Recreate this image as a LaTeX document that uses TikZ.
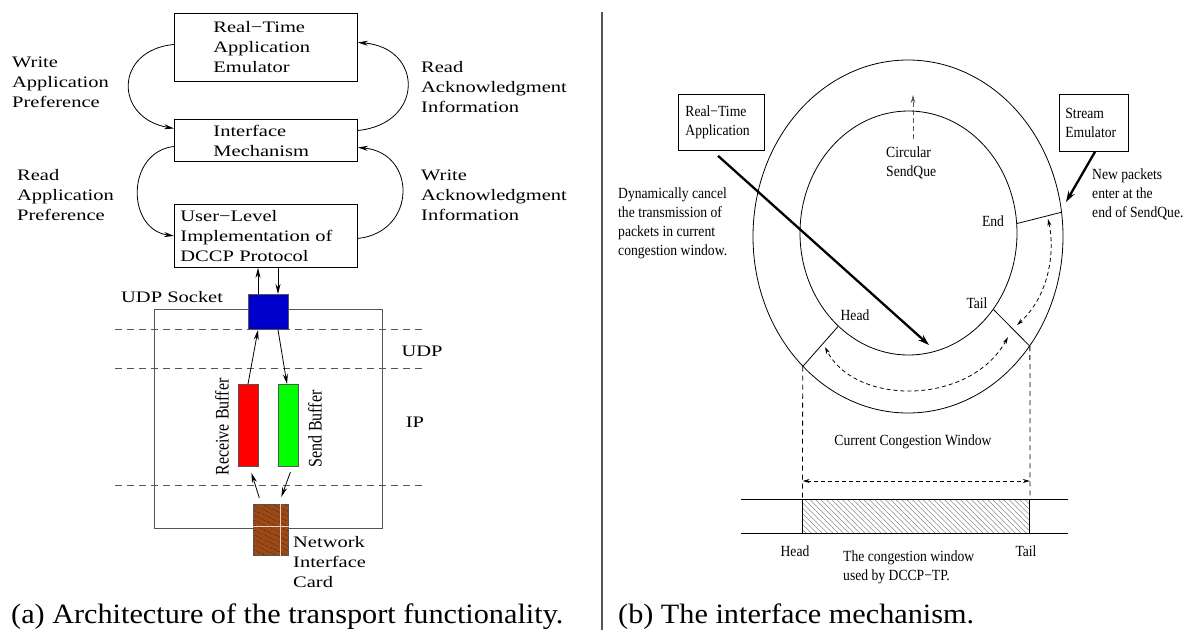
\documentclass[tikz,border=0pt]{standalone}
\usepackage{fontspec}
\setmainfont{Liberation Serif}
\newfontfamily\lfont[FakeStretch=1.28]{Liberation Serif}
\newfontfamily\rfont[FakeStretch=0.88]{Liberation Serif}
\newfontfamily\cfont[FakeStretch=1.08]{Liberation Serif}
\usetikzlibrary{shapes.geometric,arrows.meta,patterns.meta,fit,calc}
\definecolor{sockblue}{HTML}{0000CC}
\definecolor{nicbrown}{HTML}{A0460F}
\definecolor{linegray}{HTML}{555555}
\tikzset{
  lt/.style={font=\lfont\fontsize{16}{20}\selectfont, align=left, inner sep=0pt},
  rt/.style={font=\rfont\fontsize{15.5}{19}\selectfont, align=left, inner sep=0pt},
  capt/.style={font=\cfont\fontsize{28}{30}\selectfont, inner sep=0pt, anchor=base west},
  lbox/.style={draw, line width=0.9pt, rectangle, anchor=north west, inner ysep=0pt},
  arr/.style={-{Stealth[length=10pt,width=5pt]}, line width=0.8pt},
  layer/.style={draw=linegray, dash pattern=on 7pt off 5pt, line width=0.9pt},
  colbox/.style={draw=linegray, line width=0.9pt, anchor=north west, inner sep=0pt},
  thickarr/.style={line width=2.3pt, -{Stealth[length=11pt,width=7pt]}},
  ringarr/.style={dash pattern=on 4pt off 3pt, line width=0.8pt, {Stealth[length=7pt,width=4pt]}-{Stealth[length=7pt,width=4pt]}},
  vdash/.style={dash pattern=on 5pt off 4pt, line width=0.8pt},
}
\begin{document}
\begin{tikzpicture}[x=1pt,y=-1pt]
\useasboundingbox (0,0) rectangle (1184,630);

% ---------------- left panel ----------------
\node[lbox, lt, inner xsep=39pt, text width=105pt, minimum height=68pt] (rtae) at (174,13) {Real−Time\\Application\\Emulator};
\node[lbox, lt, inner xsep=39pt, text width=105pt, minimum height=42pt] (im) at (174,119) {Interface\\Mechanism};
\node[lbox, lt, inner xsep=6pt, text width=171pt, minimum height=63pt] (ul) at (174,204) {User−Level\\Implementation of\\DCCP Protocol};

\draw[arr] ($(rtae.west)+(0,-3)$) .. controls (114,50) and (114,118) .. ($(im.west)+(0,-12)$);
\draw[arr] ($(im.east)+(0,-10)$) .. controls (424,124) and (424,48) .. ($(rtae.east)+(0,-5)$);
\draw[arr] ($(im.west)+(0,6)$) .. controls (126,152) and (126,229) .. (ul.west);
\draw[arr] ($(ul.east)+(0,2.5)$) .. controls (417,232) and (417,153) .. ($(im.east)+(0,7)$);

\node[lt, anchor=west] (wap) at (12,82) {Write\\Application\\Preference};
\node[lt, anchor=west] (rap) at (17,195) {Read\\Application\\Preference};
\node[lt, anchor=west] (rai) at (421,87) {Read\\Acknowledgment\\Information};
\node[lt, anchor=west] (wai) at (421,195) {Write\\Acknowledgment\\Information};

% protocol stack
\node[draw=linegray, line width=0.9pt, anchor=north west, minimum width=228pt, minimum height=219pt, inner sep=0pt] (stack) at (154,309) {};
\draw[layer] (115,329) -- (422,329);
\draw[layer] (115,368) -- (422,368);
\draw[layer] (115,485) -- (422,485);

\node[colbox, fill=sockblue, minimum width=40pt, minimum height=35pt] (sock) at (248,294) {};
\node[colbox, fill=red, minimum width=20pt, minimum height=82pt] (rb) at (238,384) {};
\node[colbox, fill=green, minimum width=20pt, minimum height=82pt] (sb) at (278,384) {};
\node[colbox, minimum width=35pt, minimum height=51pt, preaction={fill=nicbrown},
      pattern={Lines[angle=-25,distance=4pt,line width=0.7pt]}, pattern color=black!85] (nic) at (253,504) {};
\draw[white!75!nicbrown, line width=0.5pt] ($(nic.north west)+(27,0)$) -- ($(nic.south west)+(27,0)$);
\draw[white!75!nicbrown, line width=0.5pt] ($(nic.west)+(0,-4)$) -- ($(nic.east)+(0,-4)$);

\node[lt, anchor=west] (udpsl) at (121,297) {UDP Socket};
\node[lt] (udpl) at (422,351) {UDP};
\node[lt] (ipl) at (415,422) {IP};
\node[lt, rotate=90] (rbl) at (222,427) {\scalebox{1}[1.2]{\fontsize{16}{20}\rmfamily Receive Buffer}};
\node[lt, rotate=90] (sbl) at (315,429) {\scalebox{1}[1.2]{\fontsize{16}{20}\rmfamily Send Buffer}};
\node[lt, anchor=west] (nicl) at (293,562) {Network\\Interface\\Card};

\draw[arr] (sock.north -| 258,0) -- (ul.south -| 258,0);
\draw[arr] (ul.south -| 278,0) -- (sock.north -| 278,0);
\draw[arr] (rb.north -| 248,0) -- (sock.south -| 258,0);
\draw[arr] (sock.south -| 278,0) -- (sb.north -| 287,0);
\draw[arr] ($(nic.north)+(-11.5,-6)$) -- ($(rb.south)+(3,6)$);
\draw[arr] ($(sb.south)+(2,5)$) -- ($(nic.north)+(10.5,-7)$);

\node[capt] (capa) at (11,623) {(a) Architecture of the transport functionality.};

% separator
\draw[draw=linegray, line width=1.1pt] (602,12) -- (602,630);

% ---------------- right panel ----------------
\node[ellipse, draw, line width=0.8pt, minimum width=310pt, minimum height=353pt, inner sep=0pt] (outer) at (908,236.5) {};
\node[ellipse, draw, line width=0.8pt, minimum width=217pt, minimum height=244pt, inner sep=0pt] (inner) at (908.5,233) {};

\draw[line width=0.8pt] (inner.5.8) -- (outer.9.4);
\draw[line width=0.8pt] (inner.-42.3) -- (outer.-42.9);
\draw[line width=0.8pt] (inner.233) -- (outer.231.45);

\node[rt] (endl) at (993,221) {End};
\node[rt] (taill) at (977,303) {Tail};
\node[rt] (headl) at (855,315) {Head};

\coordinate (sq0) at (913,139);
\coordinate (sq1) at (913,95);
\draw[draw=linegray, dash pattern=on 5pt off 3pt, line width=0.8pt, -{Stealth[length=8pt,width=4.5pt]}] (sq0) -- (sq1);
\node[rt, anchor=west] (sql) at (886,162.5) {Circular\\SendQue};

\node[draw, line width=0.8pt, rt, anchor=north west, inner xsep=7pt, text width=72pt, minimum height=56pt] (rta) at (678,94) {Real−Time\\Application};
\node[draw, line width=0.8pt, rt, anchor=north west, inner xsep=6pt, text width=57pt, minimum height=57pt] (sem) at (1059,94) {Stream\\Emulator};

\coordinate (canc) at (929,345);
\draw[thickarr] ([xshift=40pt,yshift=-5pt]rta.south west) -- (canc);
\coordinate (enter) at (1066,202);
\draw[thickarr] ([xshift=36pt]sem.south west) -- (enter);

\node[rt, anchor=west] (dynl) at (618,223) {Dynamically cancel\\the transmission of\\packets in current\\congestion window.};
\node[rt, anchor=west] (newl) at (1092,194.5) {New packets\\enter at the\\end of SendQue.};

\coordinate (a1s) at (1048,219);
\coordinate (a1e) at (1017,325);
\draw[ringarr] (a1s) .. controls (1055,250) and (1050,295) .. (a1e);
\coordinate (a2s) at (1008,337);
\coordinate (a2e) at (825,347);
\draw[ringarr] (a2s) .. controls (970,406) and (855,406) .. (a2e);

\coordinate (ho) at (outer.231.45);
\coordinate (to) at (outer.-42.9);
\node[fit={(ho |- 0,499) (to |- 0,533)}, inner sep=0pt, draw, line width=0.8pt,
      pattern={Lines[angle=-45,distance=3.8pt,line width=0.35pt]}, pattern color=black!60] (win) {};
\draw[vdash] (ho) -- (win.north west);
\draw[vdash] (to) -- (win.north east);
\draw[ringarr] (ho |- 0,481) -- (to |- 0,481);
\draw[line width=0.8pt] (741,499) -- (1068,499);
\draw[line width=0.8pt] (741,533) -- (1068,533);

\node[rt] (ccw) at (913,442) {Current Congestion Window};
\node[rt] (headb) at (795,551) {Head};
\node[rt] (tailb) at (1026,551) {Tail};
\node[rt, anchor=west] (cwl) at (843,567.5) {The congestion window\\used by DCCP−TP.};

\node[capt] (capb) at (618,623) {(b) The interface mechanism.};
\end{tikzpicture}
\end{document}
